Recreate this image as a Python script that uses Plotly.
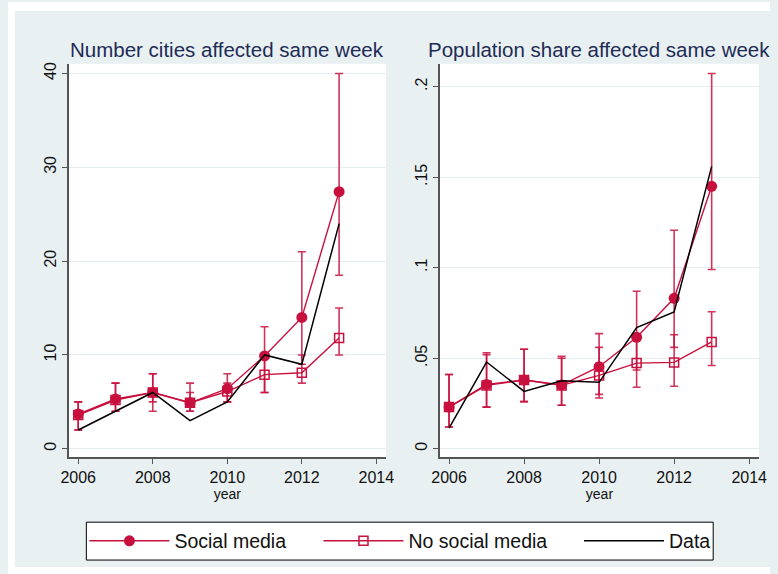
import plotly.graph_objects as go

years = [2006, 2007, 2008, 2009, 2010, 2011, 2012, 2013]

# Panel 1: number of cities affected same week
n_sm = [3.7, 5.3, 6.0, 4.9, 6.4, 9.9, 14.0, 27.4]
n_sm_lo = [2.0, 4.0, 4.0, 4.0, 5.0, 6.0, 9.0, 18.5]
n_sm_hi = [5.0, 7.0, 8.0, 7.0, 8.0, 13.0, 21.0, 40.0]
n_nsm = [3.6, 5.2, 6.0, 4.9, 6.1, 7.9, 8.1, 11.8]
n_nsm_lo = [2.0, 4.0, 5.0, 4.0, 5.0, 6.0, 7.0, 10.0]
n_nsm_hi = [5.0, 7.0, 8.0, 6.0, 7.0, 10.0, 10.0, 15.0]
n_data = [2, 4, 6, 3, 5, 10, 9, 24]

# Panel 2: population share affected same week
p_sm = [0.023, 0.0355, 0.038, 0.0352, 0.0453, 0.0616, 0.0831, 0.145]
p_sm_lo = [0.012, 0.023, 0.026, 0.024, 0.028, 0.0435, 0.056, 0.099]
p_sm_hi = [0.041, 0.053, 0.055, 0.051, 0.0636, 0.087, 0.1207, 0.2073]
p_nsm = [0.023, 0.035, 0.038, 0.035, 0.0405, 0.0473, 0.0477, 0.059]
p_nsm_lo = [0.012, 0.023, 0.026, 0.024, 0.030, 0.034, 0.0345, 0.046]
p_nsm_hi = [0.041, 0.052, 0.055, 0.050, 0.056, 0.061, 0.063, 0.0757]
p_data = [0.0114, 0.0479, 0.0317, 0.0376, 0.0367, 0.0669, 0.0756, 0.156]

x_ticks = [2006, 2008, 2010, 2012, 2014]
y1_ticks = [0, 10, 20, 30, 40]
y1_labels = ["0", "10", "20", "30", "40"]
y2_ticks = [0, 0.05, 0.1, 0.15, 0.2]
y2_labels = ["0", ".05", ".1", ".15", ".2"]

titles = ["Number cities affected same week", "Population share affected same week"]
names = ["Social media", "No social media", "Data"]

W, H = 778, 574
RED = "#C8103E"
RED_ERR = "rgba(200,16,62,0.85)"
BG = "#E8F0F2"
GRID = "#E4EDF0"
AX = "#555555"
FONT = "Liberation Sans, Arial, sans-serif"


def px_x(p):
    return p / W


def px_y(p):
    return 1 - p / H


fig = go.Figure()

panels = [
    (n_sm, n_sm_lo, n_sm_hi, n_nsm, n_nsm_lo, n_nsm_hi, n_data, "x", "y"),
    (p_sm, p_sm_lo, p_sm_hi, p_nsm, p_nsm_lo, p_nsm_hi, p_data, "x2", "y2"),
]

for i, (sm, sml, smh, nsm, nsml, nsmh, dat, xa, ya) in enumerate(panels):
    show = i == 0
    fig.add_trace(go.Scatter(
        x=years, y=sm, mode="lines+markers", name=names[0], showlegend=show,
        legend="legend",
        xaxis=xa, yaxis=ya,
        line=dict(color=RED, width=1.4),
        marker=dict(symbol="circle", size=11, color=RED),
        error_y=dict(type="data", symmetric=False,
                     array=[h - v for h, v in zip(smh, sm)],
                     arrayminus=[v - l for v, l in zip(sm, sml)],
                     color=RED_ERR, thickness=1.6, width=4),
    ))
    fig.add_trace(go.Scatter(
        x=years, y=nsm, mode="lines+markers", name=names[1], showlegend=show,
        legend="legend2",
        xaxis=xa, yaxis=ya,
        line=dict(color=RED, width=1.4),
        marker=dict(symbol="square-open", size=9, color=RED, line=dict(width=1.5)),
        error_y=dict(type="data", symmetric=False,
                     array=[h - v for h, v in zip(nsmh, nsm)],
                     arrayminus=[v - l for v, l in zip(nsm, nsml)],
                     color=RED_ERR, thickness=1.6, width=4),
    ))
    fig.add_trace(go.Scatter(
        x=years, y=dat, mode="lines", name=names[2], showlegend=show,
        legend="legend3",
        xaxis=xa, yaxis=ya,
        line=dict(color="black", width=1.5),
    ))

# plot-area pixel geometry
left_dom = [px_x(62), px_x(386)]
right_dom = [px_x(441), px_x(766.7)]
y_dom = [px_y(457), px_y(62)]

xaxis_common = dict(
    tickvals=x_ticks, ticks="outside", ticklen=5, tickwidth=1.2, tickcolor=AX,
    showline=True, linecolor=AX, linewidth=1.5, showgrid=False, zeroline=False,
    tickfont=dict(size=16, color="#111111", family=FONT),
    title=dict(text="year", font=dict(size=14, color="#111111", family=FONT), standoff=0),
)
yaxis_common = dict(
    ticks="outside", ticklen=5, tickwidth=1.2, tickcolor=AX, tickangle=-90,
    showline=True, linecolor=AX, linewidth=1.5, showgrid=True, gridcolor=GRID,
    gridwidth=1.2, zeroline=False,
    tickfont=dict(size=16, color="#111111", family=FONT),
)

legend_common = dict(
    orientation="h", xanchor="left", y=px_y(541), yanchor="middle",
    bgcolor="rgba(0,0,0,0)", borderwidth=0,
    font=dict(size=19.5, color="#111111", family=FONT),
    itemwidth=80,
)

fig.update_layout(
    width=W, height=H,
    margin=dict(l=0, r=0, t=0, b=0),
    paper_bgcolor=BG, plot_bgcolor="white",
    font=dict(family=FONT, color="#111111"),
    xaxis=dict(domain=left_dom, range=[2005.745, 2014.26], anchor="y", **xaxis_common),
    yaxis=dict(domain=y_dom, range=[-0.92, 41.03], anchor="x",
               tickvals=y1_ticks, ticktext=y1_labels, **yaxis_common),
    xaxis2=dict(domain=right_dom, range=[2005.757, 2014.26], anchor="y2", **xaxis_common),
    yaxis2=dict(domain=y_dom, range=[-0.0048, 0.2127], anchor="x2",
                tickvals=y2_ticks, ticktext=y2_labels, **yaxis_common),
    legend=dict(x=px_x(78), **legend_common),
    legend2=dict(x=px_x(317), **legend_common),
    legend3=dict(x=px_x(583), **legend_common),
    showlegend=True,
)

# legend frame
fig.add_shape(type="rect", xref="paper", yref="paper",
              x0=px_x(80), x1=px_x(720), y0=px_y(560), y1=px_y(522),
              fillcolor="white", line=dict(color="black", width=1), layer="below")

# subplot titles
for dom, t in zip([left_dom, right_dom], titles):
    fig.add_annotation(
        text=t, xref="paper", yref="paper", x=(dom[0] + dom[1]) / 2, y=px_y(48),
        xanchor="center", yanchor="middle", showarrow=False,
        font=dict(size=20.5, color="#1E2B55", family=FONT),
    )

# white strips at the page edges (outside the graph region)
for (x0, x1, y0, y1) in [(0, 7, 0, H), (0, W, 0, 9), (0, W, 567, H)]:
    fig.add_shape(type="rect", xref="paper", yref="paper",
                  x0=px_x(x0), x1=px_x(x1), y0=px_y(y1), y1=px_y(y0),
                  fillcolor="white", line=dict(width=0), layer="above")

fig.write_html("out.html")
